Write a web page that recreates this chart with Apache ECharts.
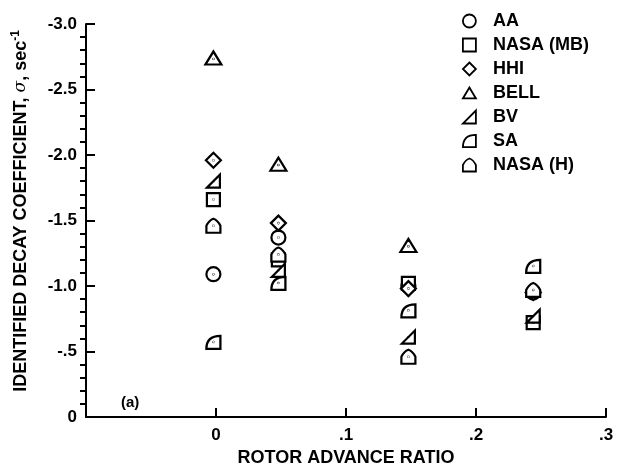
<!DOCTYPE html>
<html>
<head>
<meta charset="utf-8">
<script src="https://cdn.jsdelivr.net/npm/echarts@6/dist/echarts.min.js"></script>
<style>
html,body{margin:0;padding:0;background:#fff;}
#chart{width:617px;height:467px;}
</style>
</head>
<body>
<div id="chart"></div>
<script>
// ---- data ----
const seriesNames = ['AA', 'NASA (MB)', 'HHI', 'BELL', 'BV', 'SA', 'NASA (H)'];
const advanceRatio = [-0.002, 0.048, 0.148, 0.244];
const aaValues    = [-1.09, -1.37, -1.00, -0.95];
const nasaMbValues = [-1.66, -1.20, -1.02, -0.72];
const hhiValues   = [-1.96, -1.48, -0.98, -0.95];
const bellValues  = [-2.74, -1.93, -1.31, null];
const bvValues    = [-1.80, -1.12, -0.61, -0.77];
const saValues    = [-0.57, -1.02, -0.81, -1.15];
const nasaHValues = [-1.46, -1.24, -0.46, -0.97];
const xTickLabels = ['', '0', '.1', '.2', '.3'];           // -0.1 .. 0.3
const yTickLabels = ['-3.0', '-2.5', '-2.0', '-1.5', '-1.0', '-.5', '0']; // -3 .. 0

const allValues = [aaValues, nasaMbValues, hhiValues, bellValues, bvValues, saValues, nasaHValues];

// ---- marker shapes ----
const DOT = ' M9.75 10 A0.25 0.25 0 1 0 10.25 10 A0.25 0.25 0 1 0 9.75 10 Z';
const shapes = [
  'M1 10 A9 9 0 1 0 19 10 A9 9 0 1 0 1 10 Z',
  'M1 1 L19 1 L19 19 L1 19 Z',
  'M10 0 L20 10 L10 20 L0 10 Z',
  'M10 1 L19.5 17 L0.5 17 Z',
  'M1 19 L19 19 L19 1 Z',
  'M19 19 L1 19 C1 9 6 2 19 2 Z',
  'M1 19 L19 19 L19 10 C17 6 13 2 10 1 C7 2 3 6 1 10 Z'
];
const sizes = [[14,14],[13,13],[15,15],[16,13],[13,13],[14,13],[14,14]];

const series = seriesNames.map((name, i) => ({
  name: name,
  type: 'scatter',
  symbol: 'path://' + shapes[i] + DOT,
  symbolSize: sizes[i],
  itemStyle: { color: '#fff', borderColor: '#000', borderWidth: 2.2, opacity: 1 },
  data: advanceRatio.map((x, j) => allValues[i][j] == null ? null : [x, allValues[i][j]]).filter(d => d),
  z: 3
}));

const chart = echarts.init(document.getElementById('chart'), null, { renderer: 'canvas' });
const FONT = 'Liberation Sans, Arial, Helvetica, sans-serif';
chart.setOption({
  animation: false,
  backgroundColor: '#fff',
  grid: { left: 86, top: 24, width: 520, height: 393, containLabel: false, outerBoundsMode: 'none' },
  xAxis: {
    type: 'value', min: -0.1, max: 0.3, interval: 0.1,
    name: 'ROTOR ADVANCE RATIO', nameLocation: 'middle', nameGap: 32,
    nameTextStyle: { color: '#000', fontSize: 18, fontWeight: 'bold', fontFamily: FONT },
    axisLine: { show: true, onZero: false, lineStyle: { color: '#000', width: 2 } },
    axisTick: { show: true, inside: true, length: 9, lineStyle: { color: '#000', width: 2 } },
    axisLabel: {
      color: '#000', fontSize: 17, fontWeight: 'bold', fontFamily: FONT, margin: 10,
      formatter: v => xTickLabels[Math.round(v * 10) + 1] || ''
    },
    splitLine: { show: false }
  },
  yAxis: {
    type: 'value', min: -3, max: 0, interval: 0.5, inverse: true,
    axisLine: { show: true, onZero: false, lineStyle: { color: '#000', width: 2 } },
    axisTick: { show: true, inside: true, length: 9, lineStyle: { color: '#000', width: 2 } },
    minorTick: { show: true, splitNumber: 5, length: -6, lineStyle: { color: '#000', width: 2 } },
    axisLabel: {
      color: '#000', fontSize: 17, fontWeight: 'bold', fontFamily: FONT, margin: 9,
      formatter: v => yTickLabels[Math.round((v + 3) * 2)] || ''
    },
    splitLine: { show: false }, minorSplitLine: { show: false }
  },
  legend: {
    orient: 'vertical', left: 457, top: 7,
    itemWidth: 13, itemHeight: 13, itemGap: 6,
    selectedMode: false,
    textStyle: { color: '#000', fontSize: 18, fontWeight: 'bold', fontFamily: FONT, lineHeight: 18, padding: [0, 0, 0, 12] },
    itemStyle: { color: '#fff', borderColor: '#000', borderWidth: 1.8 },
    data: seriesNames.map((n, i) => ({ name: n, icon: 'path://' + shapes[i] }))
  },
  graphic: [
    {
      type: 'text', x: 21, y: 211, rotation: Math.PI / 2,
      style: {
        text: 'IDENTIFIED DECAY COEFFICIENT, {i|σ}, sec{s|-1}',
        align: 'center', verticalAlign: 'middle',
        fill: '#000', fontSize: 18, fontWeight: 'bold', fontFamily: FONT, lineHeight: 22,
        rich: {
          i: { fontStyle: 'italic', fontSize: 17, fontFamily: 'DejaVu Serif, serif', fill: '#000', lineHeight: 22 },
          s: { fontSize: 12, fontWeight: 'bold', fontFamily: FONT, fill: '#000', verticalAlign: 'top', lineHeight: 12 }
        }
      }
    },
    {
      type: 'text', left: 121, top: 395,
      style: { text: '(a)', fill: '#000', fontSize: 15, fontWeight: 'bold', fontFamily: FONT }
    }
  ],
  series: series
});
</script>
</body>
</html>
